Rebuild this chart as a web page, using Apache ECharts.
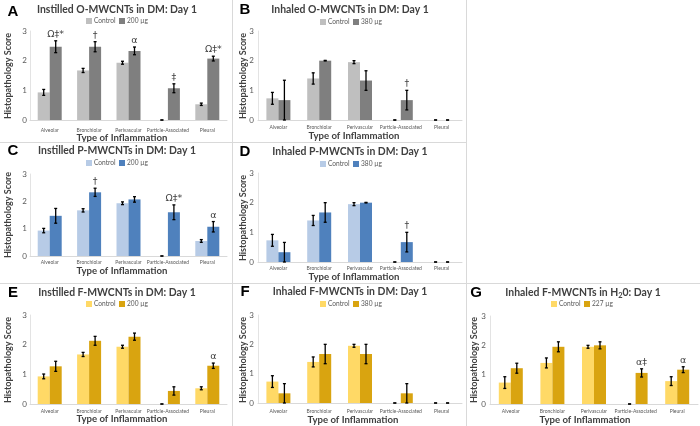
<!DOCTYPE html>
<html><head><meta charset="utf-8">
<script src="https://cdn.jsdelivr.net/npm/echarts@6/dist/echarts.min.js"></script>
<style>html,body{margin:0;padding:0;background:#fff}#c{width:700px;height:426px}</style>
</head><body><div id="c"></div>
<script>
const categories = ['Alveolar','Bronchiolar','Perivascular','Particle-Associated','Pleural'];
const yTicks = [0,1,2,3];

const aControl = [0.93, 1.67, 1.93, 0, 0.53];
const aControlErr = [0.10, 0.07, 0.05, 0, 0.04];
const aDose = [2.47, 2.47, 2.33, 1.07, 2.07];
const aDoseErr = [0.20, 0.17, 0.13, 0.15, 0.08];
const aMarks = ['Ω‡*', '†', 'α', '‡', 'Ω‡*'];

const bControl = [0.73, 1.40, 1.95, 0, 0];
const bControlErr = [0.20, 0.19, 0.05, 0, 0];
const bDose = [0.67, 2.00, 1.33, 0.67, 0];
const bDoseErr = [0.67, 0.01, 0.33, 0.33, 0];
const bMarks = ['', '', '', '†', ''];

const cControl = [0.93, 1.67, 1.93, 0, 0.55];
const cControlErr = [0.08, 0.06, 0.05, 0, 0.05];
const cDose = [1.47, 2.33, 2.07, 1.60, 1.07];
const cDoseErr = [0.27, 0.15, 0.10, 0.27, 0.19];
const cMarks = ['', '†', '', 'Ω‡*', 'α'];

const dControl = [0.73, 1.40, 1.95, 0, 0];
const dControlErr = [0.20, 0.17, 0.05, 0, 0];
const dDose = [0.33, 1.67, 2.00, 0.67, 0];
const dDoseErr = [0.33, 0.33, 0.01, 0.33, 0];
const dMarks = ['', '', '', '†', ''];

const eControl = [0.93, 1.67, 1.93, 0, 0.53];
const eControlErr = [0.08, 0.07, 0.05, 0, 0.05];
const eDose = [1.27, 2.13, 2.27, 0.44, 1.29];
const eDoseErr = [0.17, 0.15, 0.12, 0.14, 0.09];
const eMarks = ['', '', '', '', 'α'];

const fControl = [0.73, 1.40, 1.95, 0, 0];
const fControlErr = [0.20, 0.17, 0.05, 0, 0];
const fDose = [0.33, 1.67, 1.67, 0.33, 0];
const fDoseErr = [0.33, 0.33, 0.33, 0.33, 0];
const fMarks = ['', '', '', '', ''];

const gControl = [0.73, 1.40, 1.95, 0, 0.78];
const gControlErr = [0.20, 0.17, 0.05, 0, 0.15];
const gDose = [1.22, 1.95, 2.00, 1.06, 1.17];
const gDoseErr = [0.17, 0.17, 0.12, 0.14, 0.10];
const gMarks = ['', '', '', 'α‡', 'α'];

const panelLetters = ['A','B','C','D','E','F','G'];
const panelTitles = ['Instilled O-MWCNTs in DM: Day 1','Inhaled O-MWCNTs in DM: Day 1','Instilled P-MWCNTs in DM: Day 1','Inhaled P-MWCNTs in DM: Day 1','Instilled F-MWCNTs in DM: Day 1','Inhaled F-MWCNTs in DM: Day 1','Inhaled F-MWCNTs in H20: Day 1'];
const controlName = 'Control';
const doseNames = ['200 µg','380 µg','200 µg','380 µg','200 µg','380 µg','227 µg'];
const yAxisTitle = 'Histopathology Score';
const xAxisTitle = 'Type of Inflammation';

const data = [
  [aControl, aControlErr, aDose, aDoseErr, aMarks],
  [bControl, bControlErr, bDose, bDoseErr, bMarks],
  [cControl, cControlErr, cDose, cDoseErr, cMarks],
  [dControl, dControlErr, dDose, dDoseErr, dMarks],
  [eControl, eControlErr, eDose, eDoseErr, eMarks],
  [fControl, fControlErr, fDose, fDoseErr, fMarks],
  [gControl, gControlErr, gDose, gDoseErr, gMarks]
];

// layout (pixels)
const layout = [
  {left:30,  top:31,  w:197, h:89, letter:[13,12], title:[117,10], leg:[89,21],  yt:[8,76],   xt:[122,138], catM:8, tickM:3},
  {left:258, top:31,  w:204, h:89, letter:[245,10], title:[350,10], leg:[323,22], yt:[243,76], xt:[354,136], catM:5, tickM:4},
  {left:30,  top:174, w:197, h:82, letter:[13,151], title:[117,151],leg:[89,163], yt:[8,215],  xt:[122,271], catM:4, tickM:3},
  {left:258, top:173, w:204, h:89, letter:[245,152],title:[350,152],leg:[323,164], yt:[243,218],xt:[354,277], catM:4, tickM:4},
  {left:30,  top:315, w:197, h:89, letter:[13,293], title:[117,293],leg:[89,304], yt:[8,360],  xt:[122,419], catM:5, tickM:3},
  {left:258, top:315, w:204, h:88, letter:[245,292],title:[350,292],leg:[323,304], yt:[243,360],xt:[353,420], catM:6, tickM:4},
  {left:490, top:316, w:208, h:88, letter:[476,293],title:[583,293],leg:[554,304], yt:[474,360],xt:[585,420], catM:5, tickM:4}
];
const palettes = [
  ['#bfbfbf','#7f7f7f'],['#bfbfbf','#7f7f7f'],
  ['#b7cbe6','#4f81bd'],['#b7cbe6','#4f81bd'],
  ['#ffd966','#d9a410'],['#ffd966','#d9a410'],['#ffd966','#d9a410']
];

const BW = 12;
const grids = [], xAxes = [], yAxes = [], series = [], graphics = [];
const textFont = '"Lato", "Open Sans", sans-serif';

data.forEach((d, p) => {
  const L = layout[p];
  const [ctrl, ctrlErr, dose, doseErr, marks] = d;
  grids.push({left:L.left, top:L.top, width:L.w, height:L.h, containLabel:false});
  xAxes.push({type:'category', gridIndex:p, data:categories,
    axisLine:{show:true, lineStyle:{color:'#d9d9d9', width:1}}, axisTick:{show:false},
    axisLabel:{fontSize:5, color:'#595959', margin:L.catM, interval:0, fontFamily:textFont}});
  yAxes.push({type:'value', gridIndex:p, min:yTicks[0], max:yTicks[yTicks.length-1], interval:1,
    splitLine:{show:false}, axisLine:{show:true, lineStyle:{color:'#e3e3e3'}},
    axisTick:{show:false},
    axisLabel:{fontSize:8, color:'#595959', margin:L.tickM, fontFamily:textFont}});
  series.push({type:'bar', name:controlName, xAxisIndex:p, yAxisIndex:p, data:ctrl, barWidth:BW, barGap:'0%',
    itemStyle:{color:palettes[p][0]}, silent:true, animation:false});
  series.push({type:'bar', name:doseNames[p], xAxisIndex:p, yAxisIndex:p, data:dose, barWidth:BW, barGap:'0%',
    itemStyle:{color:palettes[p][1]}, silent:true, animation:false});
  const errData = [];
  ctrl.forEach((v,i)=>errData.push([i, v, ctrlErr[i], -1, '']));
  dose.forEach((v,i)=>errData.push([i, v, doseErr[i], 1, marks[i]]));
  series.push({type:'custom', xAxisIndex:p, yAxisIndex:p, silent:true, animation:false, z:5,
    encode:{x:0, y:1}, data:errData,
    renderItem:(params, api)=>{
      const idx = params.dataIndex;
      const row = errData[idx];
      const i = row[0], v = row[1], e = row[2], side = row[3], mk = row[4];
      const base = api.coord([i, v]);
      const x = base[0] + side*BW/2;
      const yt = api.coord([i, v+e])[1];
      const yb = api.coord([i, Math.max(0, v-e)])[1];
      const st = {stroke:'#000', lineWidth:1.3};
      const ch = [
        {type:'line', shape:{x1:x, y1:yt, x2:x, y2:yb}, style:st},
        {type:'line', shape:{x1:x-1.5, y1:yt, x2:x+1.5, y2:yt}, style:st},
        {type:'line', shape:{x1:x-1.5, y1:yb, x2:x+1.5, y2:yb}, style:st}
      ];
      if (mk) ch.push({type:'text', x:x, y:yt-6.5, style:{text:mk, font:'9.5px "DejaVu Sans", sans-serif', fill:'#404040', align:'center', verticalAlign:'middle', textAlign:'center', textVerticalAlign:'middle'}});
      return {type:'group', children:ch};
    }});

  const C = {align:'center', verticalAlign:'middle', textAlign:'center', textVerticalAlign:'middle'};
  graphics.push({type:'text', x:L.letter[0], y:L.letter[1], style:Object.assign({text:panelLetters[p], font:'bold 15px "Liberation Sans", Arial, sans-serif', fill:'#000'}, C)});
  if (p === 6) {
    graphics.push({type:'text', x:L.title[0], y:L.title[1], style:Object.assign({
      text:'{a|Inhaled F-MWCNTs in H}{s|2}{a|0: Day 1}',
      rich:{a:{font:'bold 10.4px '+textFont, fill:'#404040', color:'#404040'}, s:{font:'bold 7.5px '+textFont, fill:'#404040', color:'#404040', padding:[5,0,0,0]}}}, C)});
  } else {
    graphics.push({type:'text', x:L.title[0], y:L.title[1], style:Object.assign({text:panelTitles[p], font:'bold 10.4px '+textFont, fill:'#404040'}, C)});
  }
  const lx = L.leg[0], ly = L.leg[1];
  const LT = {align:'left', verticalAlign:'middle', textAlign:'left', textVerticalAlign:'middle'};
  graphics.push({type:'rect', shape:{x:lx-3, y:ly-3, width:6, height:6}, style:{fill:palettes[p][0]}});
  graphics.push({type:'text', x:lx+5, y:ly, style:Object.assign({text:controlName, font:'6.6px '+textFont, fill:'#595959'}, LT)});
  graphics.push({type:'rect', shape:{x:lx+30, y:ly-3, width:6, height:6}, style:{fill:palettes[p][1]}});
  graphics.push({type:'text', x:lx+38, y:ly, style:Object.assign({text:doseNames[p], font:'6.6px '+textFont, fill:'#595959'}, LT)});
  graphics.push({type:'text', x:L.yt[0], y:L.yt[1], rotation:Math.PI/2, style:Object.assign({text:yAxisTitle, font:'bold 9px '+textFont, fill:'#404040'}, C)});
  graphics.push({type:'text', x:L.xt[0], y:L.xt[1], style:Object.assign({text:xAxisTitle, font:'bold 9.6px '+textFont, fill:'#404040'}, C)});
});

const borderStyle = {stroke:'#d9d9d9', lineWidth:1};
graphics.push({type:'line', shape:{x1:232.5, y1:0, x2:232.5, y2:426}, style:borderStyle});
graphics.push({type:'line', shape:{x1:466.5, y1:0, x2:466.5, y2:426}, style:borderStyle});
graphics.push({type:'line', shape:{x1:0, y1:142.5, x2:466, y2:142.5}, style:borderStyle});
graphics.push({type:'line', shape:{x1:0, y1:283.5, x2:700, y2:283.5}, style:borderStyle});

const chart = echarts.init(document.getElementById('c'), null, {renderer:'canvas'});
chart.setOption({animation:false, grid:grids, xAxis:xAxes, yAxis:yAxes, series:series, graphic:graphics});
</script></body></html>
